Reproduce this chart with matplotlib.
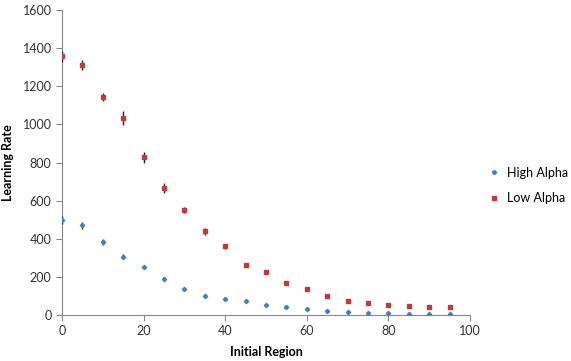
import numpy as np
import matplotlib
matplotlib.use("Agg")
import matplotlib.pyplot as plt

plt.rcParams['font.family'] = ['Lato', 'DejaVu Sans']

region = [0, 5, 10, 15, 20, 25, 30, 35, 40, 45, 50, 55, 60, 65, 70, 75, 80, 85, 90, 95]
high_alpha = [497, 470, 385, 307, 250, 190, 139, 102, 83, 72, 54, 42, 31, 21, 14, 11, 10, 6, 6, 6]
high_err = [20, 18, 16, 14, 8, 7, 5, 4, 3, 3, 2, 2, 2, 2, 1, 1, 1, 1, 1, 1]
low_alpha = [1358, 1311, 1145, 1034, 828, 666, 552, 440, 360, 260, 224, 168, 136, 100, 76, 62, 53, 46, 42, 42]
low_err = [28, 25, 22, 36, 30, 25, 15, 18, 15, 8, 6, 4, 4, 3, 3, 2, 2, 2, 2, 2]

fig = plt.figure(figsize=(5.71, 3.61), dpi=100)
ax = fig.add_axes([0.1086, 0.1274, 0.7144, 0.8446])

h1 = ax.errorbar(region, high_alpha, yerr=high_err, fmt='D', ms=2.2, color='#4a7ebb',
                 ecolor='#222222', elinewidth=1, capsize=0, label='High Alpha', zorder=3)
h2 = ax.errorbar(region, low_alpha, yerr=low_err, fmt='s', ms=3.4, color='#c0393b',
                 ecolor='#222222', elinewidth=1, capsize=0, label='Low Alpha', zorder=3)

ax.set_xlim(0, 100)
ax.set_ylim(0, 1600)
ax.set_xticks(range(0, 101, 20))
ax.set_yticks(range(0, 1601, 200))
for s in ['top', 'right']:
    ax.spines[s].set_visible(False)
for s in ['left', 'bottom']:
    ax.spines[s].set_color('#888888')
ax.tick_params(colors='#888888', labelcolor='#333333', labelsize=9, length=4, direction='out')
ax.set_xlabel('Initial Region', fontsize=9, fontweight='bold', labelpad=6)
ax.set_ylabel('Learning Rate', fontsize=9, fontweight='bold', labelpad=6)

ax.legend([h1[0], h2[0]], ['High Alpha', 'Low Alpha'], loc='center left',
          bbox_to_anchor=(1.02, 0.425), frameon=False, fontsize=9,
          handlelength=0.8, handletextpad=0.6, labelspacing=1.1)

fig.savefig('out.png', dpi=100)
